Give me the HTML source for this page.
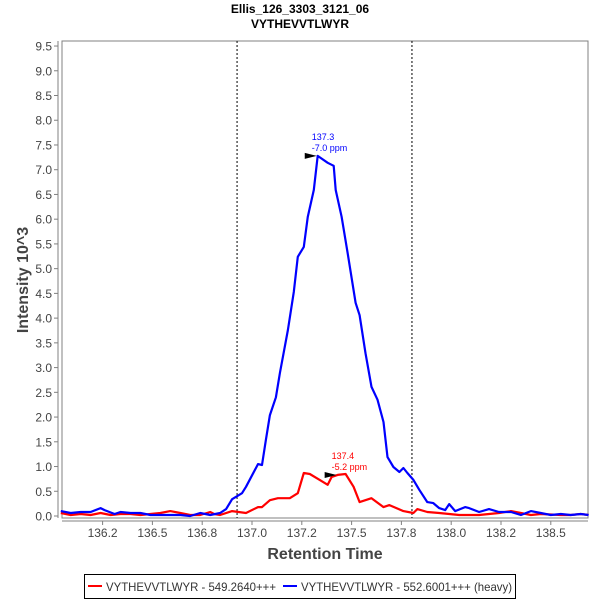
<!DOCTYPE html>
<html><head><meta charset="utf-8"><style>
body{margin:0;background:#fff;width:600px;height:600px;overflow:hidden;font-family:"Liberation Sans",sans-serif}
</style></head><body>
<svg id="chart" width="600" height="600" xmlns="http://www.w3.org/2000/svg" font-family="Liberation Sans, sans-serif">
<text x="300" y="13" text-anchor="middle" font-size="12" font-weight="bold">Ellis_126_3303_3121_06</text>
<text x="300" y="28" text-anchor="middle" font-size="12" font-weight="bold">VYTHEVVTLWYR</text>
<rect x="62" y="41" width="526" height="477" fill="#fff" stroke="#808080" stroke-width="1"/>
<line x1="58" y1="41" x2="58" y2="518" stroke="#808080"/>
<line x1="62" y1="521" x2="588" y2="521" stroke="#808080"/>
<g id="yticks"></g><g id="xticks"></g>
<text transform="translate(28,280) rotate(-90)" text-anchor="middle" font-size="16" font-weight="bold" fill="#444">Intensity 10^3</text>
<text x="325" y="559" text-anchor="middle" font-size="16" font-weight="bold" fill="#444">Retention Time</text>
<g id="marks"></g>
<g>
<rect x="84.5" y="574.5" width="431" height="24" fill="#fff" stroke="#000"/>
<line x1="88" y1="586" x2="102" y2="586" stroke="#f00" stroke-width="2"/>
<text x="106" y="591" font-size="12" fill="#333" textLength="170" lengthAdjust="spacingAndGlyphs">VYTHEVVTLWYR - 549.2640+++</text>
<line x1="283" y1="586" x2="297" y2="586" stroke="#00f" stroke-width="2"/>
<text x="301" y="591" font-size="12" fill="#333" textLength="211" lengthAdjust="spacingAndGlyphs">VYTHEVVTLWYR - 552.6001+++ (heavy)</text>
</g>
</svg>
<script>
const blueTimes=[136.04,136.09,136.14,136.19,136.24,136.26,136.31,136.34,136.39,136.44,136.49,136.54,136.59,136.64,136.69,136.74,136.79,136.84,136.87,136.90,136.95,136.97,137.03,137.05,137.07,137.09,137.12,137.14,137.18,137.21,137.23,137.26,137.28,137.31,137.33,137.38,137.41,137.42,137.45,137.48,137.52,137.54,137.57,137.60,137.63,137.66,137.68,137.71,137.74,137.76,137.78,137.81,137.84,137.88,137.91,137.94,137.97,137.99,138.02,138.07,138.09,138.14,138.19,138.24,138.30,138.35,138.40,138.45,138.50,138.55,138.60,138.65,138.69];
const blueValues=[0.10,0.06,0.08,0.08,0.16,0.12,0.04,0.08,0.06,0.06,0.02,0.02,0.02,0.02,0.00,0.06,0.02,0.06,0.14,0.34,0.46,0.59,1.05,1.03,1.54,2.04,2.40,2.89,3.76,4.53,5.24,5.44,6.05,6.59,7.28,7.14,7.08,6.59,6.05,5.32,4.31,4.06,3.29,2.61,2.35,1.90,1.19,0.99,0.89,0.97,0.87,0.73,0.53,0.28,0.26,0.16,0.12,0.24,0.10,0.18,0.16,0.08,0.14,0.08,0.08,0.02,0.10,0.06,0.02,0.04,0.02,0.04,0.02];
const redTimes=[136.04,136.09,136.14,136.19,136.24,136.29,136.34,136.39,136.44,136.49,136.54,136.59,136.64,136.69,136.74,136.79,136.81,136.84,136.90,136.97,137.03,137.05,137.09,137.13,137.19,137.23,137.26,137.29,137.34,137.38,137.40,137.43,137.47,137.51,137.54,137.60,137.66,137.69,137.76,137.81,137.83,137.88,137.94,137.99,138.04,138.14,138.19,138.24,138.30,138.35,138.40,138.45,138.55,138.60,138.65,138.69];
const redValues=[0.06,0.02,0.04,0.02,0.06,0.02,0.04,0.04,0.02,0.04,0.06,0.10,0.06,0.02,0.02,0.08,0.04,0.02,0.10,0.06,0.18,0.18,0.32,0.36,0.36,0.46,0.87,0.85,0.73,0.63,0.79,0.83,0.85,0.59,0.28,0.36,0.18,0.22,0.10,0.06,0.14,0.08,0.06,0.04,0.02,0.02,0.04,0.06,0.10,0.06,0.02,0.04,0.02,0.02,0.04,0.02];
const yTicks=[0,0.5,1,1.5,2,2.5,3,3.5,4,4.5,5,5.5,6,6.5,7,7.5,8,8.5,9,9.5];
const xTicks=[136.25,136.5,136.75,137.0,137.25,137.5,137.75,138.0,138.25,138.5];
const xTickLabels=["136.2","136.5","136.8","137.0","137.2","137.5","137.8","138.0","138.2","138.5"];
const boundaries=[136.925,137.803];
const peakBlue={t:137.33,v:7.28,l1:"137.3",l2:"-7.0 ppm"};
const peakRed={t:137.43,v:0.83,l1:"137.4",l2:"-5.2 ppm"};

const NS="http://www.w3.org/2000/svg";
const X=t=>252+(t-137)*199.2;
const Y=v=>516-v*49.47;
function mk(tag,attrs,parent,text){const e=document.createElementNS(NS,tag);for(const k in attrs)e.setAttribute(k,attrs[k]);if(text!==undefined)e.textContent=text;parent.appendChild(e);return e;}
const yg=document.getElementById('yticks'),xg=document.getElementById('xticks'),mg=document.getElementById('marks');
yTicks.forEach(v=>{
 const l=mk('line',{x1:54,x2:58,y1:Y(v),y2:Y(v),stroke:'#808080'},yg);
 
 
 const t=mk('text',{x:52,y:Y(v)+4.5,'text-anchor':'end','font-size':12,fill:'#444'},yg,v.toFixed(1));
 
 
});
xTicks.forEach((v,i)=>{
 const l=mk('line',{x1:X(v),x2:X(v),y1:521,y2:525,stroke:'#808080'},xg);
 
 
 const t=mk('text',{x:X(v),y:537,'text-anchor':'middle','font-size':12,fill:'#444'},xg,xTickLabels[i]);
 
 
});
boundaries.forEach(b=>{
 const l=mk('line',{x1:X(b),x2:X(b),y1:41,y2:518,stroke:'#000','stroke-dasharray':'2,2','stroke-width':1},mg);
 
 
});
function series(ts,vs,color,name){
 const p=mk('polyline',{points:ts.map((t,i)=>X(t).toFixed(1)+','+Y(vs[i]).toFixed(1)).join(' '),fill:'none',stroke:color,'stroke-width':2.2,'stroke-linejoin':'round'},mg);
 
 
}
series(redTimes,redValues,'#f00','series-light');
series(blueTimes,blueValues,'#00f','series-heavy');
function peak(pk,color,name){
 const x=X(pk.t),y=Y(pk.v);
 const a=mk('polygon',{points:`${x-13},${y-3} ${x-13},${y+3} ${x-1},${y}`,fill:'#000'},mg);
 
 
 const t1=mk('text',{x:x-6,y:y-16,'font-size':9,fill:color},mg,pk.l1);
 
 
 const t2=mk('text',{x:x-6,y:y-5,'font-size':9,fill:color},mg,pk.l2);
 
 
}
peak(peakBlue,'#00f','peak-heavy');
peak(peakRed,'#f00','peak-light');
</script>
</body></html>
